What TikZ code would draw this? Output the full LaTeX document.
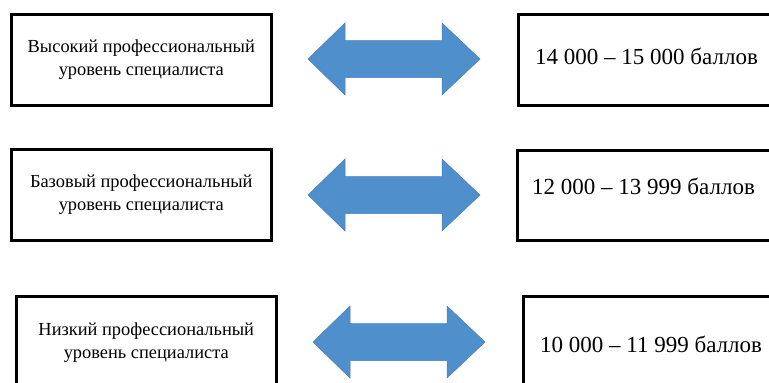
\documentclass[tikz,border=0pt]{standalone}
\usepackage{fontspec}
\setmainfont{Liberation Serif}
\definecolor{arrowblue}{HTML}{4F8FCC}
\definecolor{arrowedge}{HTML}{4A7EBB}
\tikzset{
  levelbox/.style={draw=black, line width=2.6pt, fill=white, minimum width=260pt, anchor=north west, align=center, font=\fontsize{18.4}{23}\selectfont, inner sep=0pt},
  scorebox/.style={draw=black, line width=2.6pt, fill=white, minimum width=300pt, anchor=north west, inner sep=0pt},
  scoretext/.style={anchor=west, font=\fontsize{23}{27}\selectfont, inner sep=0pt},
  bigarrow/.style={fill=arrowblue, draw=arrowedge, line width=0.5pt, line join=miter}
}
\newcommand{\dblarrow}[3]{% left tip x, right tip x, center y
  \fill[bigarrow] (#1,#3) -- (#1+37,#3-36) -- (#1+37,#3-18.5) -- (#2-38,#3-18.5) -- (#2-38,#3-36) -- (#2,#3)
    -- (#2-38,#3+36) -- (#2-38,#3+18.5) -- (#1+37,#3+18.5) -- (#1+37,#3+36) -- cycle;
}
\begin{document}
\begin{tikzpicture}[x=1pt,y=-1pt]
\clip (0,0) rectangle (769,383);
\fill[white] (0,0) rectangle (769,383);
% left boxes
\node[levelbox, minimum height=91pt] (l1) at (10,13) {Высокий профессиональный\\уровень специалиста};
\node[levelbox, minimum height=91pt] (l2) at (10,148) {Базовый профессиональный\\уровень специалиста};
\node[levelbox, minimum height=92pt] (l3) at (15,295) {Низкий профессиональный\\уровень специалиста};
% right boxes
\node[scorebox, minimum height=91pt] (r1) at (517,13) {};
\node[scorebox, minimum height=90pt] (r2) at (516,149) {};
\node[scorebox, minimum height=100pt] (r3) at (522,295) {};
\node[scoretext] (t1) at (535,56) {14 000 – 15 000 баллов};
\node[scoretext] (t2) at (532,186) {12 000 – 13 999 баллов};
\node[scoretext] (t3) at (540,344) {10 000 – 11 999 баллов};
% arrows
\dblarrow{308}{480}{59}
\dblarrow{308}{480}{195}
\dblarrow{313}{485}{342}
\end{tikzpicture}
\end{document}
